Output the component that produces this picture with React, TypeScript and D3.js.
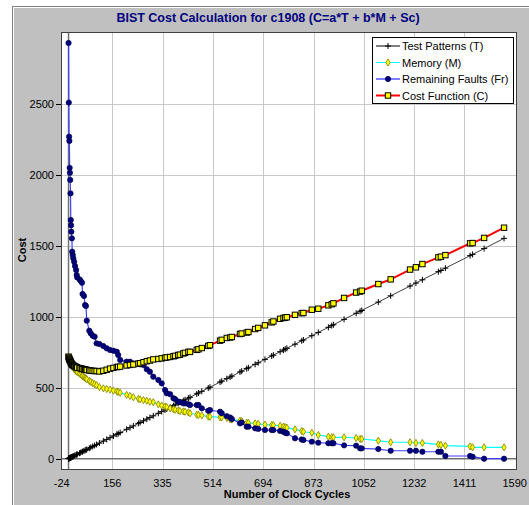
import React from 'react';
import * as d3 from 'd3';

const cycles = [0, 1, 2, 3, 4, 5, 6, 7, 8, 9, 10, 12, 13, 15, 17, 20, 23, 27, 29, 31, 39, 43, 48, 50, 55, 59, 62, 65, 74, 79, 86, 93, 100, 110, 124, 136, 148, 160, 172, 177, 184, 207, 219, 231, 249, 255, 267, 279, 290, 302, 320, 332, 344, 350, 362, 374, 380, 391, 397, 409, 415, 427, 433, 457, 463, 475, 498, 504, 540, 546, 564, 576, 582, 611, 617, 635, 641, 665, 676, 700, 724, 730, 754, 766, 772, 778, 807, 831, 837, 867, 890, 926, 938, 944, 982, 1025, 1039, 1045, 1104, 1148, 1217, 1238, 1261, 1318, 1327, 1343, 1431, 1440, 1481, 1552];

const testPatterns = [0, 1, 2, 3, 4, 5, 6, 7, 8, 9, 10, 12, 13, 15, 17, 20, 23, 27, 29, 31, 39, 43, 48, 50, 55, 59, 62, 65, 74, 79, 86, 93, 100, 110, 124, 136, 148, 160, 172, 177, 184, 207, 219, 231, 249, 255, 267, 279, 290, 302, 320, 332, 344, 350, 362, 374, 380, 391, 397, 409, 415, 427, 433, 457, 463, 475, 498, 504, 540, 546, 564, 576, 582, 611, 617, 635, 641, 665, 676, 700, 724, 730, 754, 766, 772, 778, 807, 831, 837, 867, 890, 926, 938, 944, 982, 1025, 1039, 1045, 1104, 1148, 1217, 1238, 1261, 1318, 1327, 1343, 1431, 1440, 1481, 1553];

const memory = [719, 712, 705, 700, 693, 688, 684, 679, 672, 667, 662, 655, 650, 645, 640, 633, 627, 620, 615, 611, 600, 594, 586, 582, 575, 570, 565, 560, 548, 542, 533, 525, 518, 505, 496, 491, 487, 480, 474, 470, 465, 450, 442, 433, 422, 418, 413, 408, 402, 398, 383, 375, 368, 364, 355, 348, 345, 340, 336, 333, 331, 326, 320, 310, 308, 305, 297, 296, 292, 292, 287, 278, 276, 268, 265, 254, 252, 249, 246, 240, 237, 237, 232, 226, 222, 219, 207, 195, 190, 183, 167, 155, 151, 151, 151, 146, 139, 139, 127, 116, 116, 111, 111, 101, 97, 92, 87, 80, 80, 80];

const faults = [2930, 2510, 2270, 2240, 2050, 2015, 1965, 1870, 1682, 1645, 1600, 1553, 1459, 1436, 1412, 1388, 1358, 1330, 1295, 1278, 1264, 1254, 1240, 1161, 1147, 1083, 1076, 973, 902, 884, 867, 860, 813, 808, 794, 778, 766, 761, 754, 731, 696, 684, 684, 672, 672, 665, 660, 630, 613, 578, 555, 531, 484, 461, 455, 426, 420, 402, 400, 390, 390, 385, 378, 378, 378, 355, 338, 343, 331, 320, 300, 290, 280, 249, 255, 226, 226, 214, 210, 202, 202, 202, 196, 190, 183, 179, 144, 135, 132, 120, 113, 109, 109, 109, 94, 92, 73, 73, 68, 56, 56, 56, 49, 49, 49, 19, 19, 14, 0, 0];

const cost = [719, 713, 707, 703, 697, 693, 690, 686, 680, 676, 672, 667, 663, 660, 657, 653, 650, 647, 644, 642, 639, 637, 634, 632, 630, 629, 627, 625, 622, 621, 619, 618, 618, 615, 620, 627, 635, 640, 646, 647, 649, 657, 661, 664, 671, 673, 680, 687, 692, 700, 703, 707, 712, 714, 717, 722, 725, 731, 733, 742, 746, 753, 753, 767, 771, 780, 795, 800, 832, 838, 851, 854, 858, 879, 882, 889, 893, 914, 922, 940, 961, 967, 986, 992, 994, 997, 1014, 1026, 1027, 1050, 1057, 1081, 1089, 1095, 1133, 1171, 1178, 1184, 1231, 1264, 1333, 1349, 1372, 1419, 1424, 1435, 1518, 1520, 1556, 1628];

const xTicks = [-24, 156, 335, 514, 694, 873, 1052, 1232, 1411, 1590];
const yTicks = [0, 500, 1000, 1500, 2000, 2500];
const legendLabels = ['Test Patterns (T)', 'Memory (M)', 'Remaining Faults (Fr)', 'Cost Function (C)'];

const FONT = "'Liberation Sans', Arial, sans-serif";

export default function App() {
  const W = 529, H = 505;
  const x = d3.scaleLinear().domain([-24, 1590]).range([61.8, 514.7]);
  const y = d3.scaleLinear().domain([0, 2500]).range([458.7, 104]);
  const plotL = 61, plotR = 517, plotT = 32, plotB = 470;

  const mk = (vals: number[]) => cycles.map((c, i) => [x(c), y(vals[i])] as [number, number]);
  const line = d3.line();
  const tPts = mk(testPatterns);
  const mPts = mk(memory);
  const fPts = mk(faults);
  const cPts = mk(cost);
  const diamond = d3.symbol().type(d3.symbolDiamond).size(15)() as string;

  const lgX = 372, lgY = 37, lgW = 141, lgH = 66;
  const rowY = (i: number) => lgY + 9 + i * 16.5;

  return (
    <svg width={W} height={H} style={{ position: 'absolute', left: 0, top: 0 }} fontFamily={FONT}>
      <rect x={0} y={0} width={W} height={H} fill="#ffffff" />
      <rect x={12} y={6} width={W - 12} height={H - 6} fill="#c0c0c0" />
      <line x1={12.5} y1={6} x2={12.5} y2={H} stroke="#808080" />
      <line x1={12} y1={6.5} x2={W} y2={6.5} stroke="#808080" />
      <line x1={13.5} y1={7} x2={13.5} y2={H} stroke="#ffffff" />
      <line x1={13} y1={7.5} x2={W} y2={7.5} stroke="#ffffff" />

      <text x={268} y={21.5} textAnchor="middle" fontSize={12.5} fontWeight="bold" fill="#000080">
        BIST Cost Calculation for c1908 (C=a*T + b*M + Sc)
      </text>

      <rect x={plotL} y={plotT} width={plotR - plotL} height={plotB - plotT} fill="#ffffff" />
      <g stroke="#c8c8c8" strokeWidth={1}>
        {xTicks.slice(1, -1).map((t) => (
          <line key={'gx' + t} x1={Math.round(x(t)) + 0.5} x2={Math.round(x(t)) + 0.5} y1={plotT} y2={plotB} />
        ))}
        {yTicks.slice(1).map((t) => (
          <line key={'gy' + t} x1={plotL} x2={plotR} y1={Math.round(y(t)) + 0.5} y2={Math.round(y(t)) + 0.5} />
        ))}
      </g>
      <line x1={x(0)} x2={x(0)} y1={plotT} y2={plotB} stroke="#707070" strokeWidth={1.5} />
      <line x1={plotL} x2={plotR} y1={y(0)} y2={y(0)} stroke="#707070" strokeWidth={1.5} />
      <rect x={plotL + 0.5} y={plotT + 0.5} width={plotR - plotL - 1} height={plotB - plotT - 1} fill="none" stroke="#404040" />

      {yTicks.map((t) => (
        <g key={'yt' + t}>
          <line x1={plotL - 5} x2={plotL} y1={Math.round(y(t)) + 0.5} y2={Math.round(y(t)) + 0.5} stroke="#000" />
          <text x={plotL - 7} y={y(t) + 4} textAnchor="end" fontSize={11} fill="#000">{t}</text>
        </g>
      ))}
      {xTicks.map((t) => (
        <text key={'xt' + t} x={x(t)} y={487} textAnchor="middle" fontSize={11} fill="#000">{t}</text>
      ))}
      <text x={287} y={498} textAnchor="middle" fontSize={11} fontWeight="bold" fill="#000">Number of Clock Cycles</text>
      <text transform={`translate(26,250) rotate(-90)`} textAnchor="middle" fontSize={11} fontWeight="bold" fill="#000">Cost</text>

      <path d={line(tPts) as string} fill="none" stroke="#404040" strokeWidth={1} />
      {tPts.map(([px, py], i) => (
        <path key={'t' + i} d={`M${px - 3},${py}H${px + 3}M${px},${py - 3}V${py + 3}`} stroke="#000" strokeWidth={1} />
      ))}
      <path d={line(mPts) as string} fill="none" stroke="#00ffff" strokeWidth={1.2} />
      {mPts.map(([px, py], i) => (
        <path key={'m' + i} d={diamond} transform={`translate(${px},${py})`} fill="#ffff00" stroke="#808000" strokeWidth={0.8} />
      ))}
      <path d={line(fPts) as string} fill="none" stroke="#4040ff" strokeWidth={1.2} />
      {fPts.map(([px, py], i) => (
        <circle key={'f' + i} cx={px} cy={py} r={2.7} fill="#000080" stroke="#000040" strokeWidth={0.6} />
      ))}
      <path d={line(cPts) as string} fill="none" stroke="#ff0000" strokeWidth={2} />
      {cPts.map(([px, py], i) => (
        <rect key={'c' + i} x={px - 2.7} y={py - 2.7} width={5.4} height={5.4} fill="#ffff00" stroke="#000" strokeWidth={1} />
      ))}

      <rect x={lgX + 0.5} y={lgY + 0.5} width={lgW} height={lgH} fill="#ffffff" stroke="#000" />
      {legendLabels.map((lab, i) => {
        const cy = rowY(i);
        const x1 = lgX + 4, x2 = lgX + 28, xm = (x1 + x2) / 2;
        const colors = ['#000000', '#00ffff', '#0000ff', '#ff0000'];
        return (
          <g key={lab}>
            <line x1={x1} x2={x2} y1={cy} y2={cy} stroke={colors[i]} strokeWidth={i === 3 ? 2 : 1} />
            {i === 0 && <path d={`M${xm - 3},${cy}H${xm + 3}M${xm},${cy - 3}V${cy + 3}`} stroke="#000" />}
            {i === 1 && <path d={diamond} transform={`translate(${xm},${cy})`} fill="#ffff00" stroke="#808000" strokeWidth={0.8} />}
            {i === 2 && <circle cx={xm} cy={cy} r={2.7} fill="#000080" stroke="#000040" strokeWidth={0.6} />}
            {i === 3 && <rect x={xm - 2.7} y={cy - 2.7} width={5.4} height={5.4} fill="#ffff00" stroke="#000" />}
            <text x={lgX + 30} y={cy + 4} fontSize={11} fill="#000">{lab}</text>
          </g>
        );
      })}
    </svg>
  );
}
